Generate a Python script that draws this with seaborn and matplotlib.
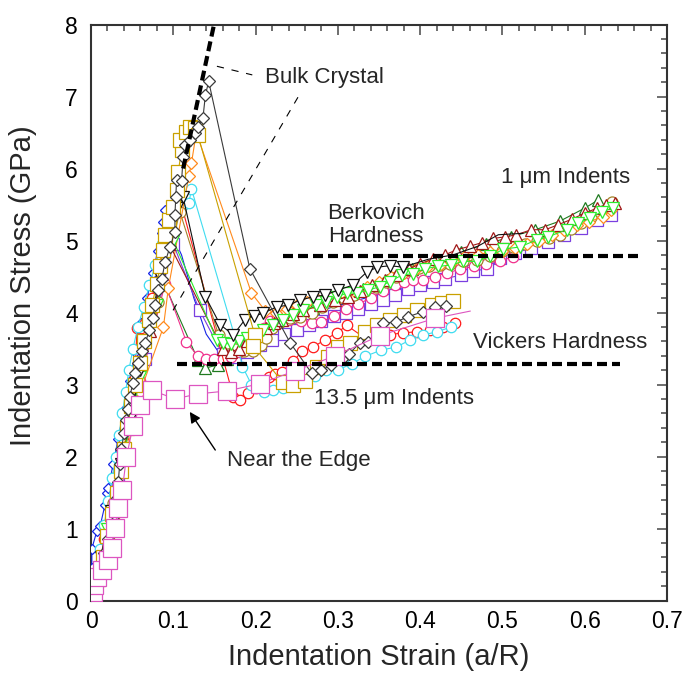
import matplotlib
matplotlib.use("Agg")
import matplotlib.pyplot as plt
import seaborn as sns
from matplotlib.ticker import MultipleLocator

sns.set_theme(style="white")
plt.rcParams['font.family'] = ['Liberation Sans', 'DejaVu Sans']

# ---------------- data: indentation strain (a/R) vs indentation stress (GPa) ----------------
# 13.5 um indents
bulk_x = [0.000, 0.006, 0.011, 0.016, 0.021, 0.025, 0.029, 0.031, 0.033, 0.035, 0.037, 0.040, 0.043,
          0.045, 0.047, 0.051, 0.053, 0.057, 0.062, 0.066, 0.071, 0.075, 0.078, 0.081, 0.086, 0.090,
          0.096, 0.102, 0.102, 0.103, 0.104, 0.110, 0.112, 0.114, 0.120, 0.126, 0.130, 0.136, 0.139,
          0.143, 0.193, 0.242, 0.268, 0.280, 0.292, 0.305, 0.313, 0.327, 0.337, 0.355, 0.371, 0.385,
          0.403, 0.418, 0.432]
bulk_y = [0.00, 0.25, 0.45, 0.66, 0.86, 1.03, 1.19, 1.42, 1.64, 1.90, 2.10, 2.32, 2.51,
          2.66, 2.83, 3.02, 3.16, 3.30, 3.46, 3.58, 3.76, 3.93, 4.10, 4.31, 4.46, 4.70,
          4.91, 5.12, 5.36, 5.60, 5.84, 5.82, 6.16, 6.33, 6.40, 6.49, 6.58, 6.70, 7.02,
          7.21, 4.61, 3.58, 3.16, 3.20, 3.27, 3.35, 3.42, 3.58, 3.59, 3.85, 3.87, 3.94,
          4.01, 4.08, 4.09]

gold_x = [0.002, 0.008, 0.014, 0.020, 0.026, 0.031, 0.036, 0.040, 0.044, 0.049, 0.054, 0.060, 0.065,
          0.070, 0.074, 0.080, 0.084, 0.087, 0.090, 0.095, 0.100, 0.104, 0.106, 0.110, 0.108, 0.115,
          0.120, 0.126, 0.130, 0.199, 0.197, 0.233, 0.246, 0.260, 0.275, 0.288, 0.300, 0.315, 0.333,
          0.348, 0.363, 0.380, 0.396, 0.414, 0.427, 0.440]
gold_y = [0.05, 0.30, 0.60, 0.90, 1.20, 1.50, 1.80, 2.10, 2.40, 2.70, 3.00, 3.30, 3.60,
          3.90, 4.10, 4.40, 4.65, 4.87, 5.08, 5.28, 5.47, 5.70, 5.95, 6.26, 6.40, 6.51,
          6.58, 6.56, 6.46, 3.69, 3.54, 3.03, 2.99, 3.05, 3.24, 3.38, 3.52, 3.58, 3.73,
          3.83, 3.90, 3.97, 4.03, 4.10, 4.13, 4.16]

cyan_x = [0.000, 0.006, 0.011, 0.016, 0.021, 0.026, 0.030, 0.034, 0.038, 0.042, 0.046, 0.051, 0.057,
          0.064, 0.071, 0.078, 0.086, 0.095, 0.104, 0.112, 0.119, 0.122, 0.179, 0.184, 0.195, 0.210,
          0.221, 0.233, 0.246, 0.258, 0.272, 0.286, 0.300, 0.317, 0.333, 0.353, 0.371, 0.388, 0.404,
          0.420, 0.438]
cyan_y = [0.05, 0.38, 0.72, 1.05, 1.38, 1.70, 2.00, 2.30, 2.60, 2.90, 3.20, 3.50, 3.80,
          4.08, 4.38, 4.66, 4.95, 5.20, 5.40, 5.50, 5.52, 5.72, 3.50, 3.25, 3.00, 2.90,
          2.92, 2.95, 3.02, 3.06, 3.12, 3.20, 3.20, 3.29, 3.39, 3.48, 3.52, 3.62, 3.69,
          3.73, 3.80]

red_x = [0.000, 0.008, 0.016, 0.024, 0.032, 0.040, 0.047, 0.053, 0.056, 0.061, 0.066, 0.074, 0.082,
         0.090, 0.098, 0.105, 0.173, 0.181, 0.191, 0.200, 0.208, 0.216, 0.224, 0.232, 0.246, 0.256,
         0.270, 0.284, 0.299, 0.311, 0.331, 0.363, 0.379, 0.396, 0.412, 0.428, 0.442]
red_y = [0.00, 0.40, 0.85, 1.30, 1.75, 2.20, 2.65, 3.10, 3.78, 3.78, 3.85, 4.20, 4.60,
         5.00, 5.40, 5.70, 2.83, 2.79, 2.88, 2.95, 3.03, 3.10, 3.15, 3.18, 3.32, 3.46,
         3.52, 3.62, 3.72, 3.82, 3.66, 3.69, 3.72, 3.73, 3.76, 3.80, 3.85]

edge_x = [0.000, 0.002, 0.004, 0.007, 0.013, 0.021, 0.025, 0.029, 0.033, 0.038, 0.043, 0.051, 0.060,
          0.074, 0.102, 0.130, 0.165, 0.205, 0.248, 0.297, 0.351, 0.418, 0.461]
edge_y = [0.05, 0.12, 0.22, 0.33, 0.42, 0.56, 0.73, 1.01, 1.28, 1.53, 1.99, 2.42, 2.72,
          2.92, 2.80, 2.87, 2.91, 3.01, 3.19, 3.40, 3.68, 3.92, 4.02]

# 1 um indents
blk_x = [0.000, 0.012, 0.024, 0.036, 0.048, 0.060, 0.072, 0.084, 0.096, 0.105, 0.112, 0.139, 0.157,
         0.173, 0.187, 0.198, 0.209, 0.226, 0.239, 0.254, 0.270, 0.284, 0.300, 0.318, 0.335, 0.348,
         0.363, 0.379, 0.410, 0.440, 0.470, 0.495, 0.525]
blk_y = [0.00, 0.60, 1.25, 1.90, 2.55, 3.20, 3.85, 4.50, 5.10, 5.45, 5.60, 4.22, 3.83,
         3.69, 3.90, 3.95, 3.99, 4.08, 4.10, 4.17, 4.22, 4.24, 4.31, 4.38, 4.56, 4.63,
         4.65, 4.63, 4.74, 4.80, 4.92, 5.08, 5.10]

lime_x = [0.000, 0.020, 0.040, 0.060, 0.080, 0.100, 0.153, 0.160, 0.170, 0.180, 0.190, 0.200, 0.209,
          0.221, 0.233, 0.245, 0.258, 0.274, 0.286, 0.299, 0.311, 0.323, 0.337, 0.351, 0.363, 0.378,
          0.391, 0.406, 0.422, 0.438, 0.452, 0.469, 0.485, 0.501, 0.521, 0.542, 0.555, 0.578, 0.592,
          0.606, 0.621, 0.634]
lime_y = [0.00, 1.00, 2.05, 3.10, 4.10, 5.00, 3.62, 3.58, 3.56, 3.60, 3.65, 3.70, 3.76,
          3.83, 3.90, 3.97, 4.03, 4.10, 4.15, 4.22, 4.27, 4.27, 4.31, 4.36, 4.43, 4.52,
          4.54, 4.61, 4.64, 4.66, 4.71, 4.71, 4.78, 4.88, 4.91, 5.01, 5.05, 5.15, 5.24,
          5.31, 5.40, 5.45]

maroon_x = [0.000, 0.024, 0.048, 0.072, 0.095, 0.160, 0.170, 0.180, 0.190, 0.200, 0.213, 0.222, 0.232,
            0.245, 0.258, 0.278, 0.297, 0.312, 0.327, 0.342, 0.357, 0.371, 0.386, 0.400, 0.415, 0.430,
            0.444, 0.460, 0.475, 0.489, 0.503, 0.517, 0.535, 0.552, 0.568, 0.585, 0.600, 0.615, 0.626,
            0.637]
maroon_y = [0.00, 1.25, 2.50, 3.75, 4.95, 3.50, 3.45, 3.50, 3.60, 3.70, 3.78, 3.85, 3.90,
            3.98, 4.03, 4.10, 4.17, 4.22, 4.30, 4.38, 4.45, 4.52, 4.60, 4.68, 4.74, 4.80,
            4.87, 4.92, 4.97, 5.03, 5.05, 5.08, 5.15, 5.15, 5.22, 5.30, 5.38, 5.45, 5.50,
            5.52]

dgreen_x = [0.000, 0.028, 0.056, 0.085, 0.130, 0.139, 0.154, 0.165, 0.185, 0.210, 0.240, 0.270, 0.300,
            0.330, 0.360, 0.390, 0.420, 0.450, 0.480, 0.510, 0.540, 0.570, 0.600, 0.616]
dgreen_y = [0.00, 1.45, 2.95, 4.50, 3.34, 3.23, 3.27, 3.35, 3.55, 3.75, 3.92, 4.06, 4.20,
            4.33, 4.45, 4.60, 4.72, 4.84, 4.95, 5.05, 5.15, 5.27, 5.45, 5.56]

olive_x = [0.000, 0.027, 0.054, 0.081, 0.108, 0.155, 0.165, 0.175, 0.186, 0.197, 0.206, 0.213, 0.220,
           0.230, 0.242, 0.254, 0.268, 0.281, 0.294, 0.307, 0.320, 0.333, 0.346, 0.358, 0.371, 0.385,
           0.398, 0.411, 0.424, 0.436, 0.452, 0.469, 0.485, 0.499, 0.513, 0.528, 0.542, 0.556, 0.570,
           0.583, 0.596, 0.608, 0.619, 0.633]
olive_y = [0.00, 1.35, 2.75, 4.15, 5.40, 3.69, 3.58, 3.50, 3.46, 3.46, 3.55, 3.65, 3.78,
           3.87, 3.92, 3.94, 3.99, 4.07, 4.15, 4.20, 4.25, 4.30, 4.36, 4.43, 4.50, 4.59,
           4.62, 4.64, 4.66, 4.68, 4.71, 4.73, 4.79, 4.86, 4.91, 4.95, 5.00, 5.04, 5.08,
           5.16, 5.25, 5.33, 5.40, 5.54]

orange_x = [0.000, 0.030, 0.060, 0.088, 0.094, 0.119, 0.122, 0.128, 0.195, 0.212, 0.225, 0.238, 0.250,
            0.262, 0.276, 0.290, 0.305, 0.320, 0.335, 0.350, 0.365, 0.380, 0.395, 0.410, 0.425, 0.440,
            0.455, 0.470, 0.485, 0.500, 0.515, 0.530, 0.545, 0.560, 0.575, 0.590, 0.605, 0.622, 0.632]
orange_y = [0.00, 1.40, 2.90, 3.80, 4.34, 5.90, 6.07, 6.50, 4.27, 4.02, 4.00, 4.05, 4.10,
            4.15, 4.18, 4.22, 4.28, 4.30, 4.36, 4.42, 4.50, 4.55, 4.60, 4.65, 4.68, 4.72,
            4.78, 4.80, 4.84, 4.86, 4.90, 4.95, 5.00, 5.08, 5.15, 5.22, 5.26, 5.33, 5.42]

purple_x = [0.000, 0.033, 0.066, 0.100, 0.132, 0.160, 0.175, 0.190, 0.205, 0.220, 0.235, 0.250, 0.265,
            0.280, 0.295, 0.310, 0.325, 0.340, 0.355, 0.370, 0.385, 0.400, 0.415, 0.430, 0.450, 0.464,
            0.481, 0.497, 0.515, 0.535, 0.555, 0.575, 0.595, 0.615, 0.632]
purple_y = [0.00, 1.65, 3.35, 4.95, 4.03, 3.42, 3.38, 3.45, 3.55, 3.62, 3.70, 3.76, 3.83,
            3.88, 3.95, 4.00, 4.05, 4.12, 4.18, 4.25, 4.32, 4.38, 4.42, 4.47, 4.52, 4.57,
            4.61, 4.76, 4.82, 4.90, 4.98, 5.08, 5.18, 5.28, 5.35]

pink_x = [0.000, 0.030, 0.060, 0.090, 0.116, 0.130, 0.140, 0.150, 0.160, 0.170, 0.180, 0.190, 0.200,
          0.210, 0.218, 0.226, 0.240, 0.255, 0.268, 0.280, 0.295, 0.310, 0.325, 0.340, 0.355, 0.370,
          0.380, 0.391, 0.403, 0.418, 0.433, 0.448, 0.465, 0.480, 0.497, 0.513]
pink_y = [0.00, 1.55, 3.05, 4.40, 3.59, 3.39, 3.36, 3.35, 3.36, 3.38, 3.45, 3.55, 3.65,
          3.78, 3.88, 3.92, 3.90, 3.88, 3.86, 3.87, 3.95, 4.05, 4.12, 4.20, 4.30, 4.38,
          4.42, 4.45, 4.45, 4.50, 4.55, 4.60, 4.64, 4.68, 4.72, 4.77]

blue_x = [0.000, 0.001, 0.001, 0.007, 0.011, 0.017, 0.019, 0.021, 0.027, 0.033, 0.040, 0.047, 0.054,
          0.061, 0.068, 0.075, 0.081, 0.086, 0.088, 0.090, 0.100, 0.110, 0.125, 0.140, 0.155, 0.170,
          0.190, 0.220, 0.260, 0.300, 0.340, 0.384]
blue_y = [0.10, 0.45, 0.72, 0.96, 1.03, 1.33, 1.49, 1.56, 1.90, 2.25, 2.65, 3.05, 3.45,
          3.85, 4.20, 4.55, 4.85, 5.10, 5.26, 5.42, 5.05, 4.80, 4.20, 3.70, 3.45, 3.42,
          3.55, 3.72, 3.95, 4.10, 4.22, 4.36]

# reference lines
hertz_x = [0.112, 0.1495]
hertz_y = [6.0, 8.0]
berk_x = [0.233, 0.665]
berk_y = [4.78, 4.78]
vick_x = [0.105, 0.643]
vick_y = [3.28, 3.28]
lead1_x = [0.153, 0.196]
lead1_y = [7.42, 7.30]
lead2_x = [0.2515, 0.0997]
lead2_y = [6.99, 4.03]

# ---------------- figure ----------------
fig = plt.figure(figsize=(6.9, 6.79), dpi=100)
ax = fig.add_axes([0.1319, 0.1156, 0.8348, 0.8483])

series = [
    # x, y, colour, marker, size (pt), number of marked points
    (dgreen_x, dgreen_y, '#1f7a1f', '^', 8.0, None),
    (blue_x, blue_y, '#1424e6', 'D', 4.6, 21),
    (purple_x, purple_y, '#7a3fe0', 's', 8.5, None),
    (pink_x, pink_y, '#f0308c', 'o', 7.5, None),
    (red_x, red_y, '#ff1a1a', 'o', 7.5, None),
    (cyan_x, cyan_y, '#3fdcf0', 'o', 7.5, None),
    (olive_x, olive_y, '#a3822a', 'o', 8.0, None),
    (orange_x, orange_y, '#ff8a1c', 'D', 6.0, None),
    (maroon_x, maroon_y, '#a01818', '^', 8.0, None),
    (lime_x, lime_y, '#2cec2c', 'v', 8.0, None),
    (blk_x, blk_y, '#111111', 'v', 8.0, 28),
    (gold_x, gold_y, '#c9a000', 's', 9.5, None),
    (bulk_x, bulk_y, '#3a3a3a', 'D', 6.2, None),
    (edge_x, edge_y, '#dd55c0', 's', 13.0, 22),
]

for i, (xs, ys, col, mk, ms, nmark) in enumerate(series):
    every = None if nmark is None else slice(0, nmark)
    sns.lineplot(x=xs, y=ys, ax=ax, sort=False, estimator=None, color=col,
                 linewidth=0.8, marker=mk, markersize=ms, markerfacecolor='white',
                 markeredgecolor=col, markeredgewidth=0.9, markevery=every,
                 zorder=3 + i)

# hardness levels and the bulk-crystal fit
thick = dict(color='black', lw=3.0, dashes=(2.4, 1.2), zorder=30)
ax.plot(berk_x, berk_y, **thick)
ax.plot(vick_x, vick_y, **thick)
ax.plot(hertz_x, hertz_y, **thick)
ax.plot(lead1_x, lead1_y, color='black', lw=0.8, dashes=(6.5, 7), zorder=30)
ax.plot(lead2_x, lead2_y, color='black', lw=0.8, dashes=(6.5, 7), zorder=30)

# annotations
tfs = 16
ax.text(0.2115, 7.26, 'Bulk Crystal', fontsize=tfs, ha='left', va='center', zorder=40)
ax.text(0.346, 5.215, 'Berkovich\nHardness', fontsize=tfs, ha='center', va='center',
        linespacing=1.15, zorder=40)
ax.text(0.577, 5.87, '1 \u03bcm Indents', fontsize=tfs, ha='center', va='center', zorder=40)
ax.text(0.570, 3.58, 'Vickers Hardness', fontsize=tfs, ha='center', va='center', zorder=40)
ax.text(0.368, 2.81, '13.5 \u03bcm Indents', fontsize=tfs, ha='center', va='center', zorder=40)
ax.text(0.165, 1.95, 'Near the Edge', fontsize=tfs, ha='left', va='center', zorder=40)
ax.annotate('', xy=(0.120, 2.62), xytext=(0.151, 2.09),
            arrowprops=dict(arrowstyle='-|>', color='black', lw=1.0,
                            mutation_scale=16, shrinkA=0, shrinkB=0), zorder=40)

# axes styling
ax.set_xlim(0, 0.7)
ax.set_ylim(0, 8)
ax.xaxis.set_minor_locator(MultipleLocator(0.02))
ax.yaxis.set_major_locator(MultipleLocator(1))
ax.yaxis.set_minor_locator(MultipleLocator(0.2))
ax.set_xticks([0, 0.1, 0.2, 0.3, 0.4, 0.5, 0.6, 0.7])
ax.set_xticklabels(['0', '0.1', '0.2', '0.3', '0.4', '0.5', '0.6', '0.7'])
ax.tick_params(which='both', direction='in', top=True, right=True, color='#555555',
               width=1.2, labelsize=16.5, labelcolor='black')
ax.tick_params(which='major', length=7)
ax.tick_params(axis='x', which='major', pad=7)
ax.tick_params(axis='y', which='major', pad=9.5)
ax.tick_params(which='minor', length=4)
for sp in ax.spines.values():
    sp.set_color('#333333')
    sp.set_linewidth(1.5)
ax.set_xlabel('Indentation Strain (a/R)', fontsize=21, labelpad=7)
ax.set_ylabel('Indentation Stress (GPa)', fontsize=21)
ax.yaxis.set_label_coords(-0.094, 0.547)

fig.savefig('out.png', dpi=100)
